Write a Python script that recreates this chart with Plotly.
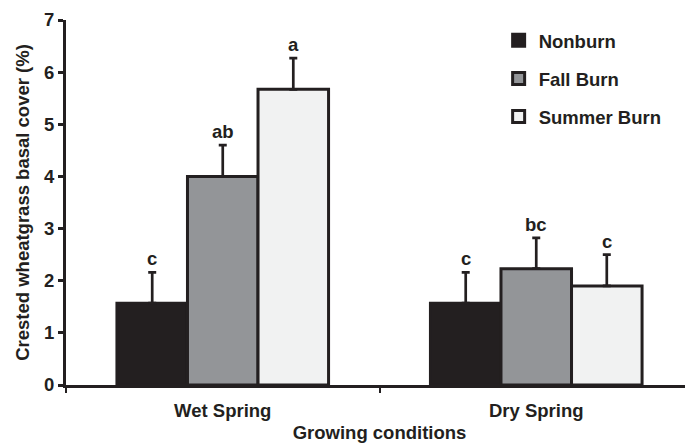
import plotly.graph_objects as go

categories = ["Wet Spring", "Dry Spring"]
series_names = ["Nonburn", "Fall Burn", "Summer Burn"]
nonburn = [1.57, 1.57]
fall_burn = [4.0, 2.23]
summer_burn = [5.67, 1.9]
nonburn_err = [0.59, 0.59]
fall_burn_err = [0.6, 0.59]
summer_burn_err = [0.6, 0.6]
nonburn_letters = ["c", "c"]
fall_burn_letters = ["ab", "bc"]
summer_burn_letters = ["a", "c"]

colors = ["#231f20", "#939598", "#f1f2f2"]
FONT = "Liberation Sans, Arial, sans-serif"
INK = "#231f20"
BARGAP = 0.325
FS = 18.5

values = [nonburn, fall_burn, summer_burn]
errors = [nonburn_err, fall_burn_err, summer_burn_err]
letters = [nonburn_letters, fall_burn_letters, summer_burn_letters]

fig = go.Figure()
for i, name in enumerate(series_names):
    fig.add_trace(go.Bar(
        name=name,
        x=categories,
        y=values[i],
        legendgroup=name,
        marker=dict(color=colors[i], line=dict(color=INK, width=3)),
        error_y=dict(type="data", symmetric=False, array=errors[i],
                     arrayminus=[0] * len(categories),
                     color=INK, thickness=2.7, width=4),
    ))

n = len(series_names)
bw = (1 - BARGAP) / n
annotations = []
for i in range(n):
    for j, cat in enumerate(categories):
        annotations.append(dict(
            x=j + (i - (n - 1) / 2) * bw, y=values[i][j] + errors[i][j],
            xref="x", yref="y", text=f"<b>{letters[i][j]}</b>",
            showarrow=False, yanchor="bottom", yshift=1,
            font=dict(family=FONT, size=FS, color=INK),
        ))

# the page body adds an 8px offset; the figure is sized to fill the rest
fig.update_layout(
    width=685, height=435,
    margin=dict(l=58, r=0, t=12, b=58),
    paper_bgcolor="white", plot_bgcolor="white",
    barmode="group", bargap=BARGAP, bargroupgap=0,
    font=dict(family=FONT, size=FS, color=INK),
    annotations=annotations,
    legend=dict(x=0.69, y=0.995, xanchor="left", yanchor="top",
                font=dict(family=FONT, size=FS, color=INK, weight="bold"),
                tracegroupgap=11, bgcolor="rgba(0,0,0,0)"),
    xaxis=dict(
        showline=True, linewidth=3, linecolor=INK,
        ticks="outside", tickson="boundaries", ticklen=5, tickwidth=2, tickcolor=INK,
        ticklabelstandoff=7,
        tickfont=dict(family=FONT, size=FS, color=INK, weight="bold"),
        title=dict(text="<b>Growing conditions</b>", standoff=9,
                   font=dict(family=FONT, size=FS, color=INK)),
        showgrid=False, zeroline=False,
    ),
    yaxis=dict(
        range=[0, 7], dtick=1,
        showline=True, linewidth=3, linecolor=INK,
        ticks="outside", ticklen=5, tickwidth=3, tickcolor=INK,
        tickfont=dict(family=FONT, size=FS, color=INK, weight="bold"),
        title=dict(text="<b>Crested wheatgrass basal cover (%)</b>", standoff=10,
                   font=dict(family=FONT, size=FS, color=INK)),
        showgrid=False, zeroline=False,
    ),
)

fig.write_html("out.html")
